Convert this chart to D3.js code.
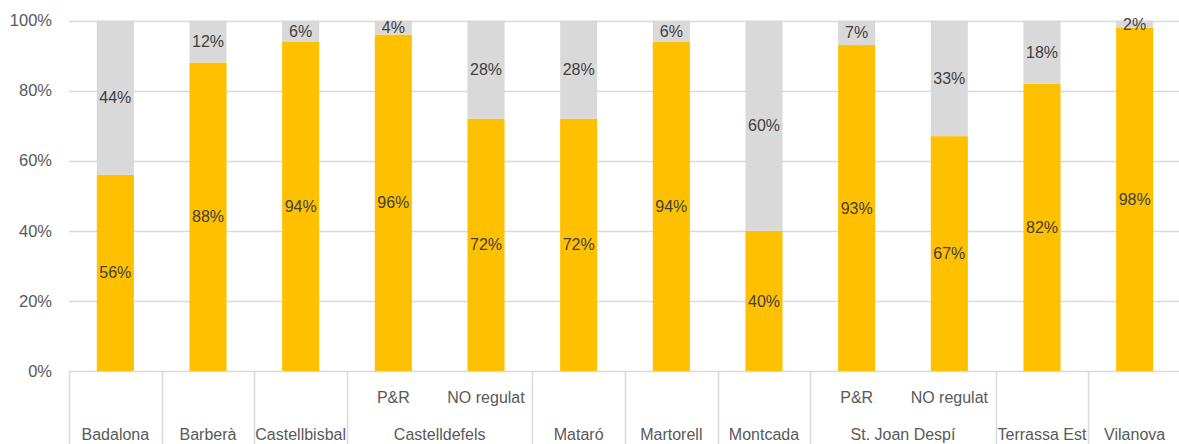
<!DOCTYPE html>
<html>
<head>
<meta charset="utf-8">
<script src="https://cdn.jsdelivr.net/npm/d3@7"></script>
<style>
  html, body { margin: 0; padding: 0; background: #ffffff; }
  svg text { font-family: "Liberation Sans", Arial, sans-serif; }
</style>
</head>
<body>
<div id="chart"></div>
<script>
// bar-level categories (one per bar)
const barIds = ['badalona', 'barbera', 'castellbisbal', 'cast-pr', 'cast-no', 'mataro',
  'martorell', 'montcada', 'stj-pr', 'stj-no', 'terrassa', 'vilanova'];
const subLabels = ['', '', '', 'P&R', 'NO regulat', '', '', '', 'P&R', 'NO regulat', '', ''];
const barGroups = ['Badalona', 'Barberà', 'Castellbisbal', 'Castelldefels', 'Castelldefels', 'Mataró',
  'Martorell', 'Montcada', 'St. Joan Despí', 'St. Joan Despí', 'Terrassa Est', 'Vilanova'];

// series values (percent)
const yellowValues = [56, 88, 94, 96, 72, 72, 94, 40, 93, 67, 82, 98];
const greyValues = [44, 12, 6, 4, 28, 28, 6, 60, 7, 33, 18, 2];

const yTicks = [0, 20, 40, 60, 80, 100];

const chartWidth = 1179;
const chartHeight = 444;
const plotLeft = 69, plotRight = 1181, plotTop = 20.5, plotBottom = 371;

const svg = d3.select('#chart')
  .append('svg')
  .attr('width', chartWidth)
  .attr('height', chartHeight);

const x = d3.scaleBand()
  .domain(barIds)
  .range([plotLeft, plotRight])
  .paddingInner(0.6)
  .paddingOuter(0.3);

const y = d3.scaleLinear()
  .domain([0, 100])
  .range([plotBottom, plotTop]);

// gridlines
svg.append('g')
  .selectAll('line')
  .data(yTicks)
  .enter()
  .append('line')
  .attr('x1', plotLeft)
  .attr('x2', plotRight)
  .attr('y1', d => Math.round(y(d)) + 0.5)
  .attr('y2', d => Math.round(y(d)) + 0.5)
  .style('stroke', '#d9d9d9')
  .style('stroke-width', 1.5);

// y tick labels
svg.append('g')
  .selectAll('text')
  .data(yTicks)
  .enter()
  .append('text')
  .attr('x', 52)
  .attr('y', d => y(d))
  .attr('dy', '0.35em')
  .attr('text-anchor', 'end')
  .style('font-size', '16.5px')
  .style('fill', '#595959')
  .text(d => d + '%');

const rows = barIds.map((id, i) => ({ id, yellow: yellowValues[i], grey: greyValues[i] }));
const stacked = d3.stack().keys(['yellow', 'grey'])(rows);
const colors = { yellow: '#ffc000', grey: '#d9d9d9' };

const layers = svg.append('g')
  .selectAll('g')
  .data(stacked)
  .enter()
  .append('g')
  .style('fill', d => colors[d.key]);

layers.selectAll('rect')
  .data(d => d)
  .enter()
  .append('rect')
  .attr('x', d => x(d.data.id))
  .attr('width', x.bandwidth())
  .attr('y', d => y(d[1]))
  .attr('height', d => y(d[0]) - y(d[1]));

// data labels
layers.selectAll('text')
  .data(d => d)
  .enter()
  .append('text')
  .attr('x', d => x(d.data.id) + x.bandwidth() / 2)
  .attr('y', d => y((d[0] + d[1]) / 2))
  .attr('dy', '0.35em')
  .attr('text-anchor', 'middle')
  .style('font-size', '16px')
  .style('fill', '#404040')
  .text(d => Math.round(d[1] - d[0]) + '%');

// category axis: separators between groups
const step = x.step();
const slotStart = id => x(id) - step * 0.3;
const groupNames = Array.from(new Set(barGroups));
const groupSpans = groupNames.map(g => {
  const ids = barIds.filter((id, i) => barGroups[i] === g);
  return { name: g, x0: slotStart(ids[0]), x1: slotStart(ids[ids.length - 1]) + step };
});

const axis = svg.append('g');

axis.selectAll('line.sep')
  .data([plotLeft].concat(groupSpans.map(d => d.x1)))
  .enter()
  .append('line')
  .attr('class', 'sep')
  .attr('x1', d => Math.round(d) + 0.5)
  .attr('x2', d => Math.round(d) + 0.5)
  .attr('y1', plotBottom)
  .attr('y2', chartHeight)
  .style('stroke', '#d9d9d9')
  .style('stroke-width', 1.5);

axis.selectAll('text.sub')
  .data(barIds.map((id, i) => ({ id, label: subLabels[i] })).filter(d => d.label))
  .enter()
  .append('text')
  .attr('class', 'sub')
  .attr('x', d => x(d.id) + x.bandwidth() / 2)
  .attr('y', 397)
  .attr('dy', '0.35em')
  .attr('text-anchor', 'middle')
  .style('font-size', '16px')
  .style('fill', '#595959')
  .text(d => d.label);

axis.selectAll('text.group')
  .data(groupSpans)
  .enter()
  .append('text')
  .attr('class', 'group')
  .attr('x', d => (d.x0 + d.x1) / 2)
  .attr('y', 434)
  .attr('dy', '0.35em')
  .attr('text-anchor', 'middle')
  .style('font-size', '16px')
  .style('fill', '#595959')
  .text(d => d.name);
</script>
</body>
</html>
